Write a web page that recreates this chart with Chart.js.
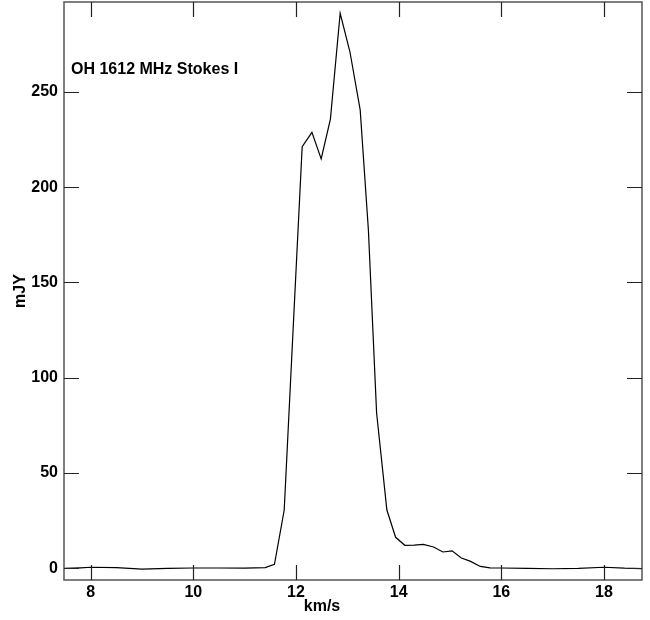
<!DOCTYPE html>
<html>
<head>
<meta charset="utf-8">
<script src="https://cdn.jsdelivr.net/npm/chart.js@4"></script>
<style>
  body { margin: 0; background: #fff; }
  canvas { display: block; }
</style>
</head>
<body>
<canvas id="spectrum" width="650" height="620"></canvas>
<script>
// Spectrum: velocity (km/s) and flux density (mJY)
var velocity = [7.48, 7.8, 8.0, 8.5, 9.0, 9.5, 10.0, 10.5, 11.0, 11.4,
    11.58, 11.77, 11.95, 12.12, 12.31, 12.49, 12.67, 12.86, 13.05, 13.25,
    13.41, 13.57, 13.77, 13.94, 14.12, 14.30, 14.48, 14.68, 14.86, 15.04,
    15.22, 15.39, 15.59, 15.78, 16.0, 16.5, 17.0, 17.5, 18.0, 18.4, 18.74];
var flux = [0.0, 0.3, 0.6, 0.4, -0.4, 0.0, 0.2, 0.2, 0.1, 0.4,
    2.1, 30.6, 129, 221.2, 228.7, 214.8, 235.7, 291.2, 271.0, 240.5,
    177.5, 81.5, 30.6, 16.3, 12.1, 12.2, 12.6, 11.2, 8.6, 9.2,
    5.4, 3.8, 1.0, 0.3, 0.2, 0.0, -0.2, 0.0, 0.6, 0.1, -0.1];

var xTicks = [8, 10, 12, 14, 16, 18];
var yTicks = [0, 50, 100, 150, 200, 250];

var plotTitle = 'OH 1612 MHz Stokes I';
var xLabel = 'km/s';
var yLabel = 'mJY';

var FONT = '"Liberation Sans", Arial, sans-serif';
var FONT_SIZE = 16;

// box around the plot, inward ticks on all four sides, and the texts
var framePlugin = {
    id: 'frame',
    afterDraw: function (chart) {
        var ctx = chart.ctx;
        var a = chart.chartArea;
        var x = chart.scales.x;
        var y = chart.scales.y;
        var len = 15;

        ctx.save();
        ctx.strokeStyle = '#555';
        ctx.lineWidth = 1.5;
        ctx.strokeRect(a.left, a.top, a.right - a.left, a.bottom - a.top);

        ctx.strokeStyle = '#222';
        ctx.lineWidth = 1.2;
        ctx.beginPath();
        xTicks.forEach(function (v) {
            var px = Math.round(x.getPixelForValue(v)) + 0.5;
            ctx.moveTo(px, a.bottom); ctx.lineTo(px, a.bottom - len);
            ctx.moveTo(px, a.top); ctx.lineTo(px, a.top + len);
        });
        yTicks.forEach(function (v) {
            var py = Math.round(y.getPixelForValue(v)) + 0.5;
            ctx.moveTo(a.left, py); ctx.lineTo(a.left + len, py);
            ctx.moveTo(a.right, py); ctx.lineTo(a.right - len, py);
        });
        ctx.stroke();

        ctx.fillStyle = '#000';
        ctx.font = 'bold ' + FONT_SIZE + 'px ' + FONT;
        ctx.textBaseline = 'middle';
        ctx.textAlign = 'left';
        ctx.fillText(plotTitle, a.left + 7, 70);

        ctx.textAlign = 'center';
        ctx.fillText(xLabel, 322, 607);

        ctx.translate(21, (a.top + a.bottom) / 2);
        ctx.rotate(-Math.PI / 2);
        ctx.fillText(yLabel, 0, 0);
        ctx.restore();
    }
};

var points = velocity.map(function (v, i) {
    return { x: v, y: flux[i] };
});

var ctx = document.getElementById('spectrum').getContext('2d');
new Chart(ctx, {
    type: 'line',
    data: {
        datasets: [{
            data: points,
            borderColor: '#000',
            borderWidth: 1.2,
            pointRadius: 0,
            tension: 0,
            fill: false
        }]
    },
    options: {
        responsive: false,
        animation: false,
        layout: { padding: { top: 2, right: 8, left: 0, bottom: 0 } },
        plugins: {
            legend: { display: false },
            tooltip: { enabled: false }
        },
        scales: {
            x: {
                type: 'linear',
                min: 7.48,
                max: 18.74,
                afterBuildTicks: function (s) {
                    s.ticks = xTicks.map(function (v) { return { value: v }; });
                },
                afterFit: function (s) {
                    s.height = 40;
                    s.paddingLeft = 0;
                    s.paddingRight = 0;
                },
                grid: { display: false, drawTicks: false },
                border: { display: false },
                ticks: {
                    color: '#000',
                    padding: 3,
                    maxRotation: 0,
                    font: { family: FONT, size: FONT_SIZE, weight: 'bold' }
                }
            },
            y: {
                min: -6.1,
                max: 297.1,
                afterBuildTicks: function (s) {
                    s.ticks = yTicks.map(function (v) { return { value: v }; });
                },
                afterFit: function (s) {
                    s.width = 64;
                    s.paddingTop = 0;
                    s.paddingBottom = 0;
                },
                grid: { display: false, drawTicks: false },
                border: { display: false },
                ticks: {
                    color: '#000',
                    padding: 6,
                    font: { family: FONT, size: FONT_SIZE, weight: 'bold' }
                }
            }
        }
    },
    plugins: [framePlugin]
});
</script>
</body>
</html>
